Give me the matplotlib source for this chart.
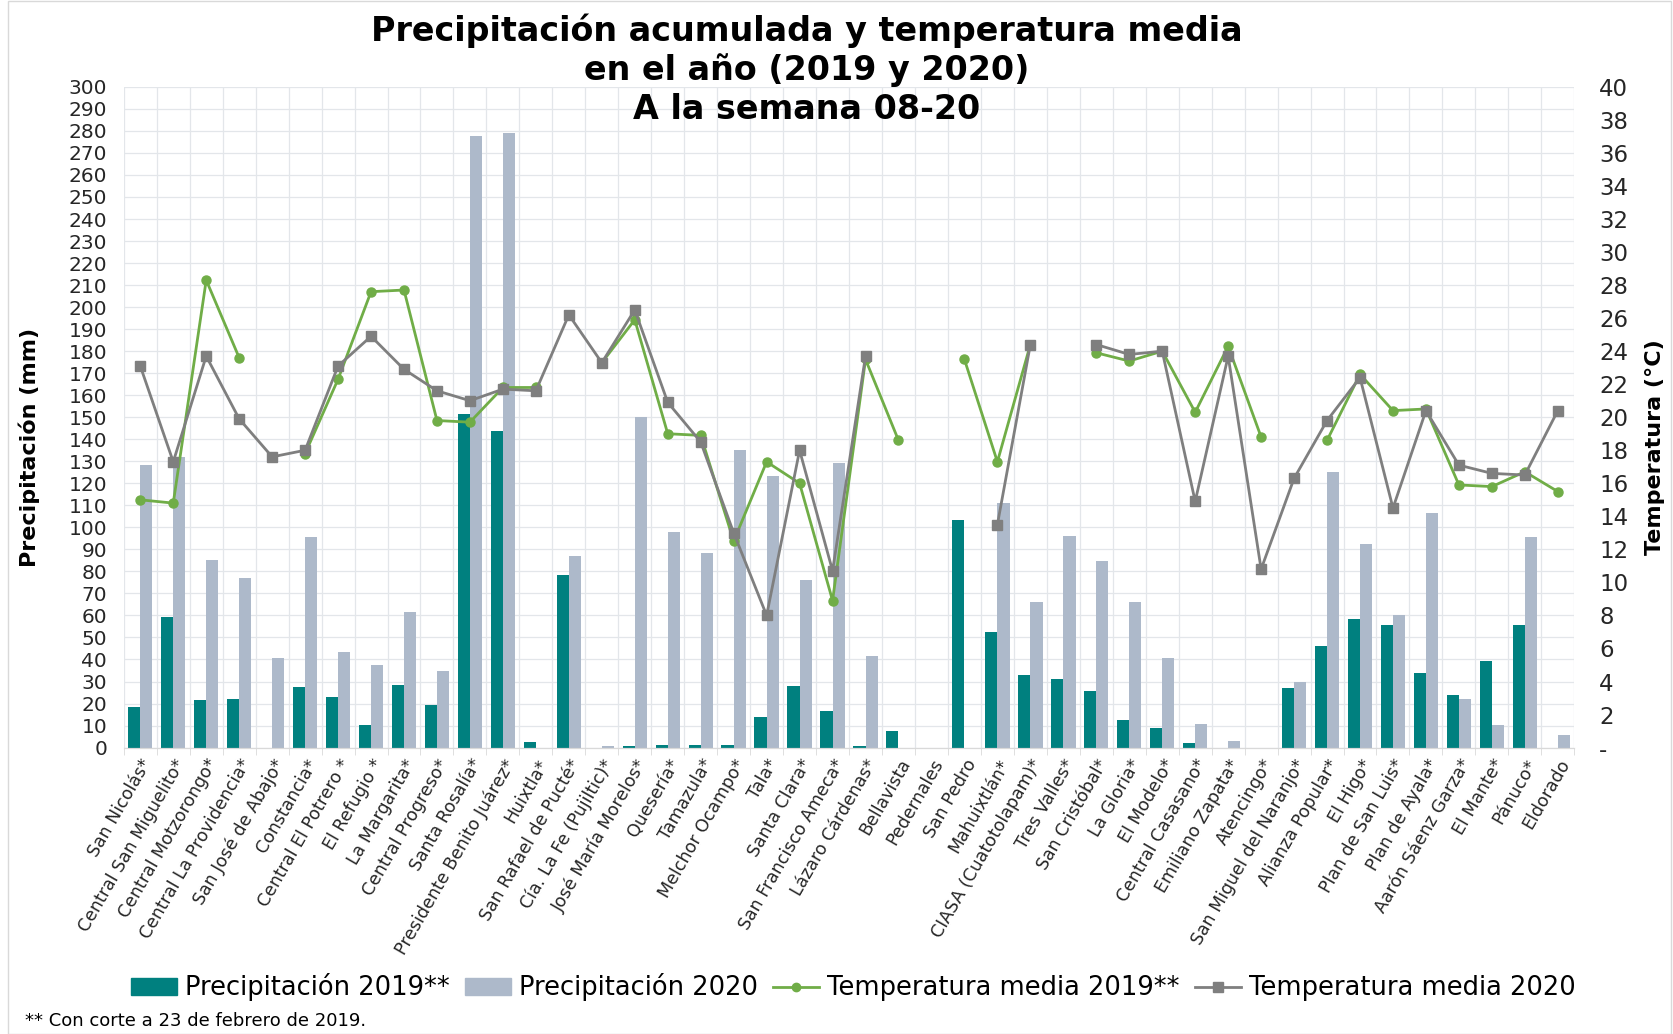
import matplotlib

matplotlib.use('Agg')
import matplotlib.pyplot as plt
import numpy as np
from matplotlib.lines import Line2D
from matplotlib.patches import Patch, Rectangle

nan = np.nan

ingenios = [
    'San Nicolás*', 'Central San Miguelito*', 'Central Motzorongo*',
    'Central La Providencia*', 'San José de Abajo*', 'Constancia*',
    'Central El Potrero *', 'El Refugio *', 'La Margarita*',
    'Central Progreso*', 'Santa Rosalía*', 'Presidente Benito Juárez*',
    'Huixtla*', 'San Rafael de Pucté*', 'Cía. La Fe (Pujiltic)*',
    'José María Morelos*', 'Quesería*', 'Tamazula*', 'Melchor Ocampo*',
    'Tala*', 'Santa Clara*', 'San Francisco Ameca*', 'Lázaro Cárdenas*',
    'Bellavista', 'Pedernales', 'San Pedro', 'Mahuixtlán*',
    'CIASA (Cuatotolapam)*', 'Tres Valles*', 'San Cristóbal*', 'La Gloria*',
    'El Modelo*', 'Central Casasano*', 'Emiliano Zapata*', 'Atencingo*',
    'San Miguel del Naranjo*', 'Alianza Popular*', 'El Higo*',
    'Plan de San Luis*', 'Plan de Ayala*', 'Aarón Sáenz Garza*', 'El Mante*',
    'Pánuco*', 'Eldorado',
]

# precipitacion acumulada (mm)
prec_2019 = [
    18.6, 59.2, 21.5, 22.1, 0, 27.4, 22.9, 10.1, 28.4, 19.3, 151.6, 143.9,
    2.4, 78.4, 0, 0.6, 1.2, 1.2, 1.2, 13.8, 27.8, 16.6, 0.6, 7.7, 0, 103.4,
    52.3, 32.8, 31.0, 25.5, 12.4, 8.9, 2.0, 0, 0, 27.0, 46.2, 58.4, 55.5,
    34.0, 23.7, 39.5, 55.5, 0,
]
prec_2020 = [
    128.3, 132.0, 85.1, 77.0, 40.9, 95.7, 43.4, 37.5, 61.4, 34.7, 277.7,
    279.1, 0, 86.8, 0.5, 150.0, 97.9, 88.4, 135.0, 123.4, 76.0, 129.0, 41.4,
    0, 0, 0, 111.0, 66.0, 96.0, 84.7, 66.1, 40.9, 10.9, 2.8, 0, 30.0, 125.1,
    92.4, 60.4, 106.4, 21.9, 10.1, 95.5, 5.9,
]

# temperatura media (grados C)
temp_2019 = [
    15.0, 14.8, 28.3, 23.6, nan, 17.8, 22.3, 27.6, 27.7, 19.8, 19.7, 21.8,
    21.8, nan, 23.3, 25.9, 19.0, 18.9, 12.5, 17.3, 16.0, 8.9, 23.5, 18.6,
    nan, 23.5, 17.3, 24.4, nan, 23.9, 23.4, 24.0, 20.3, 24.3, 18.8, nan,
    18.6, 22.6, 20.4, 20.5, 15.9, 15.8, 16.7, 15.5,
]
temp_2020 = [
    23.1, 17.3, 23.7, 19.9, 17.6, 18.0, 23.1, 24.9, 22.9, 21.6, 21.0, 21.7,
    21.6, 26.2, 23.3, 26.5, 20.9, 18.5, 13.0, 8.0, 18.0, 10.7, 23.7, nan,
    nan, nan, 13.5, 24.4, nan, 24.4, 23.8, 24.0, 14.9, 23.7, 10.8, 16.3,
    19.8, 22.4, 14.5, 20.4, 17.1, 16.6, 16.5, 20.4,
]

teal = '#00807F'
gris_barra = '#ADB9CA'
verde = '#70AD47'
gris_linea = '#7F7F7F'
grid_color = '#E3E6EA'

fig = plt.figure(figsize=(16.73, 10.34), dpi=100)
ax = fig.add_axes([0.074, 0.277, 0.867, 0.639])
ax2 = ax.twinx()

x = np.arange(len(ingenios))
w = 0.37

ax.bar(x - w / 2, prec_2019, w, color=teal, zorder=2)
ax.bar(x + w / 2, prec_2020, w, color=gris_barra, zorder=2)

ax2.plot(x, temp_2019, color=verde, lw=2, marker='o', ms=6.5, zorder=3)
ax2.plot(x, temp_2020, color=gris_linea, lw=2, marker='s', ms=7.5, zorder=4)

ax.set_xlim(-0.5, len(ingenios) - 0.5)
ax.set_ylim(0, 300)
ax2.set_ylim(0, 40)

ax.set_yticks(np.arange(0, 301, 10))
ax.tick_params(axis='y', length=0, labelsize=14.5, pad=12, labelcolor='#262626')
ax2.set_yticks(np.arange(0, 41, 2))
ax2.set_yticklabels(['-'] + [str(v) for v in range(2, 41, 2)])
ax2.tick_params(axis='y', length=0, labelsize=16.5, pad=18, labelcolor='#262626')

ax.set_xticks(x)
ax.set_xticklabels(ingenios, rotation=60, ha='right', rotation_mode='anchor',
                   fontsize=12.5, color='#262626')
ax.tick_params(axis='x', length=0, pad=6)
ax.set_xticks(np.arange(-0.5, len(ingenios), 1), minor=True)
ax.tick_params(axis='x', which='minor', length=5, color='#D9D9D9')

ax.grid(axis='y', color=grid_color, lw=0.9, zorder=0)
ax.grid(axis='x', which='minor', color=grid_color, lw=0.9, zorder=0)
ax.set_axisbelow(True)

for a in (ax, ax2):
    for side in ('top', 'left', 'right'):
        a.spines[side].set_visible(False)
    a.spines['bottom'].set_color('#D9D9D9')

ax.set_ylabel('Precipitación (mm)', fontsize=16, fontweight='bold')
ax.yaxis.set_label_coords(-0.058, 0.454)
ax2.set_ylabel('Temperatura (°C)', fontsize=16, fontweight='bold', rotation=90)
ax2.yaxis.set_label_coords(1.049, 0.454)

fig.text(0.482, 0.987,
         'Precipitación acumulada y temperatura media\n'
         'en el año (2019 y 2020)\nA la semana 08-20',
         ha='center', va='top', fontsize=24, fontweight='bold',
         linespacing=1.21, zorder=10)

handles = [
    Patch(color=teal),
    Patch(color=gris_barra),
    Line2D([], [], color=verde, lw=2, marker='o', ms=6),
    Line2D([], [], color=gris_linea, lw=2, marker='s', ms=7),
]
labels = ['Precipitación 2019**', 'Precipitación 2020',
          'Temperatura media 2019**', 'Temperatura media 2020']
fig.legend(handles, labels, loc='center', bbox_to_anchor=(0.51, 0.045),
           ncol=4, frameon=False, fontsize=18.5, handlelength=1.8,
           handleheight=0.6, columnspacing=0.6, handletextpad=0.3)

fig.text(0.015, 0.004, '** Con corte a 23 de febrero de 2019.', fontsize=13,
         ha='left', va='bottom')

fig.patches.append(Rectangle((0.005, 0.0), 0.994, 0.999, transform=fig.transFigure,
                             fill=False, edgecolor='#D9D9D9', lw=1))

fig.savefig('out.png', dpi=100)
